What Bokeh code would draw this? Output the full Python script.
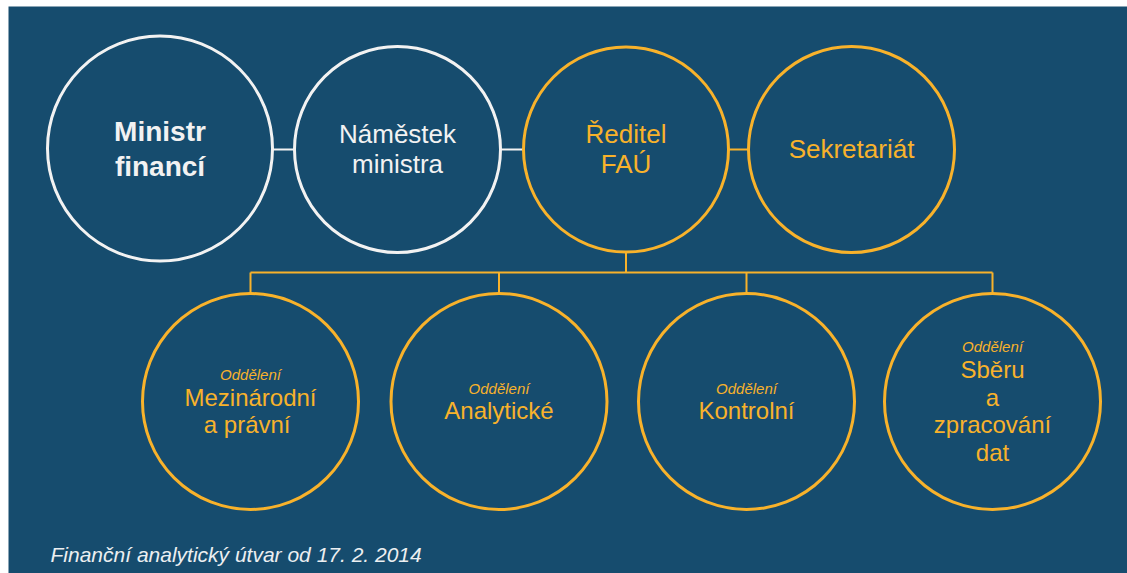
from bokeh.plotting import figure
from bokeh.models import Range1d
from bokeh.core.properties import value
from bokeh.embed import file_html
from bokeh.resources import INLINE

# ---- content ----
top_labels = [["Ministr", "financí"], ["Náměstek", "ministra"], ["Ředitel", "FAÚ"], ["Sekretariát"]]
top_kind = ["leader", "leader", "fau", "fau"]
dept_prefix = "Oddělení"
dept_labels = [["Mezinárodní", "a  právní"], ["Analytické"], ["Kontrolní"], ["Sběru", "a", "zpracování", "dat"]]
caption = "Finanční analytický útvar od 17. 2. 2014"

# ---- style / layout ----
BG = "#164C6E"
WHITE = "#F2F2F2"
YELLOW = "#F8B22B"
FONT = value("Liberation Sans")
kind_color = {"leader": WHITE, "fau": YELLOW}
SHIFT = 0.36  # baseline correction, in em

top_cx = [159.5, 397.0, 625.5, 851.0]
top_cy = [148.0, 149.0, 149.0, 149.0]
top_r = [112.5, 103.0, 102.5, 103.0]
row_y = 149.0
bot_cx = [250.0, 498.5, 746.0, 992.0]
bot_cy = 401.0
bot_r = 108.0
bar_y = 272.0

p = figure(width=1127, height=573, x_range=Range1d(8, 1127), y_range=Range1d(573, 6),
           output_backend="svg", toolbar_location=None,
           min_border_left=8, min_border_top=6, min_border_right=0, min_border_bottom=0,
           background_fill_color=BG, border_fill_color="white", outline_line_color=None)
p.axis.visible = False
p.grid.visible = False

# connectors between top circles
for i in range(len(top_cx) - 1):
    p.segment(x0=[top_cx[i] + top_r[i]], y0=[row_y], x1=[top_cx[i + 1] - top_r[i + 1]], y1=[row_y],
              line_color=kind_color[top_kind[i]], line_width=2)

# tree below Ředitel
p.segment(x0=[top_cx[2]], y0=[top_cy[2] + top_r[2]], x1=[top_cx[2]], y1=[bar_y], line_color=YELLOW, line_width=2)
p.segment(x0=[bot_cx[0]], y0=[bar_y], x1=[bot_cx[-1]], y1=[bar_y], line_color=YELLOW, line_width=2)
p.segment(x0=bot_cx, y0=[bar_y] * 4, x1=bot_cx, y1=[bot_cy - bot_r] * 4, line_color=YELLOW, line_width=2)

# circles
p.circle(x=top_cx, y=top_cy, radius=top_r, fill_color=None,
         line_color=[kind_color[k] for k in top_kind], line_width=3)
p.circle(x=bot_cx, y=[bot_cy] * 4, radius=bot_r, fill_color=None, line_color=YELLOW, line_width=3)

# top texts
for i, lines in enumerate(top_labels):
    bold = i == 0
    fs = 28 if bold else 26
    s = 35 if bold else 30
    n = len(lines)
    ys = [row_y + 0.35 * fs + (j - (n - 1) / 2) * s - SHIFT * fs for j in range(n)]
    p.text(x=[top_cx[i]] * n, y=ys, text=lines, text_font=FONT, text_font_size=f"{fs}px",
           text_font_style="bold" if bold else "normal", text_color=kind_color[top_kind[i]],
           text_align="center", text_baseline="alphabetic")

# department texts
for i, lines in enumerate(dept_labels):
    n = len(lines)
    s = 27.5
    mean_base = bot_cy + 18
    base = [mean_base + (j - (n - 1) / 2) * s for j in range(n)]
    p.text(x=[bot_cx[i]] * n, y=[b - SHIFT * 24 for b in base], text=lines, text_font=FONT,
           text_font_size="24px", text_color=YELLOW, text_align="center", text_baseline="alphabetic")
    p.text(x=[bot_cx[i]], y=[base[0] - 26 - SHIFT * 15], text=[dept_prefix], text_font=FONT,
           text_font_size="15px", text_font_style="italic", text_color=YELLOW, text_align="center",
           text_baseline="alphabetic")

# caption
p.text(x=[50], y=[562 - SHIFT * 21], text=[caption], text_font=FONT, text_font_size="21px",
       text_font_style="italic", text_color="#ECEFF1", text_align="left", text_baseline="alphabetic")

open("out.html", "w").write(file_html(p, INLINE))
